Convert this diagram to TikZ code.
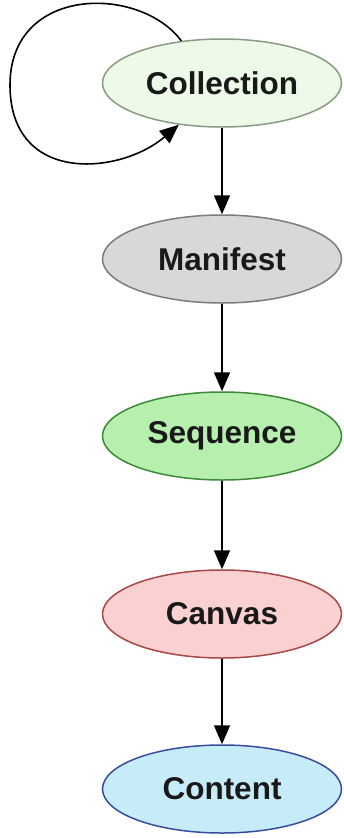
\documentclass[tikz,border=0pt]{standalone}
\usepackage{fontspec}
\setmainfont{Liberation Sans}
\usetikzlibrary{shapes.geometric,arrows.meta}

\definecolor{collfill}{HTML}{EEFAE8}
\definecolor{colldraw}{HTML}{8A9A84}
\definecolor{maniffill}{HTML}{D8D8D8}
\definecolor{manifdraw}{HTML}{7C7C7C}
\definecolor{seqfill}{HTML}{B6EFAE}
\definecolor{seqdraw}{HTML}{3C8A36}
\definecolor{canvfill}{HTML}{FAD0D0}
\definecolor{canvdraw}{HTML}{A84848}
\definecolor{contfill}{HTML}{C6ECFA}
\definecolor{contdraw}{HTML}{3A4C9E}

\begin{document}
\begin{tikzpicture}
      [x = 1pt, y = -1pt,
      kind/.style= {
         ellipse,
         draw,
         line width = 1.5pt,
         minimum width = 239pt,
         minimum height = 88pt,
         inner sep = 0pt,
         font = \fontsize{31.5}{36}\selectfont\bfseries,
         text = black!90
      },
      link/.style={-{Triangle[width = 16pt, length = 19pt]}, line width = 1.6pt}]
      \useasboundingbox (0, 0) rectangle (343, 838);

      \node[kind, fill = collfill, draw = colldraw] (coll) at (222, 83) {Collection};
      \node[kind, fill = maniffill, draw = manifdraw] (manif) at (222, 259) {Manifest};
      \node[kind, fill = seqfill, draw = seqdraw] (seq) at (222, 436) {Sequence};
      \node[kind, fill = canvfill, draw = canvdraw] (canv) at (222, 614) {Canvas};
      \node[kind, fill = contfill, draw = contdraw] (cont) at (222, 789) {Content};

      \draw[link] (coll.134) .. controls (140, -15) and (10, -15) .. (10, 85)
         .. controls (10, 185) and (120, 175) .. (coll.224);

      \draw[link] (coll) -- (manif);
      \draw[link] (manif) -- (seq);
      \draw[link] (seq) -- (canv);
      \draw[link] (canv) -- (cont);

   \end{tikzpicture}
\end{document}
